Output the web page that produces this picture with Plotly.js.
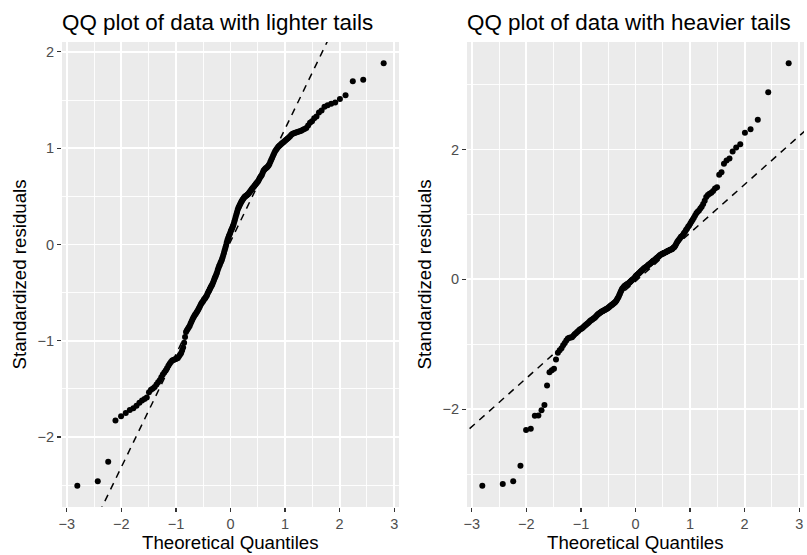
<!DOCTYPE html>
<html>
<head>
<meta charset="utf-8">
<script src="https://cdn.plot.ly/plotly-3.0.1.min.js"></script>
<style>
  html, body { margin: 0; padding: 0; background: #ffffff; }
  #chart { width: 807px; height: 555px; }
</style>
</head>
<body>
<div id="chart"></div>
<script>
// Theoretical normal quantiles (n = 200), shared by both panels
const theoreticalQuantiles = [
  -2.807,-2.432,-2.241,-2.108,-2.005,-1.919,-1.845,-1.780,-1.722,-1.669,
  -1.621,-1.576,-1.534,-1.494,-1.457,-1.422,-1.389,-1.356,-1.326,-1.296,
  -1.268,-1.240,-1.213,-1.188,-1.163,-1.138,-1.115,-1.092,-1.069,-1.047,
  -1.026,-1.005,-0.984,-0.964,-0.944,-0.925,-0.906,-0.887,-0.868,-0.850,
  -0.833,-0.815,-0.798,-0.781,-0.764,-0.747,-0.731,-0.714,-0.698,-0.682,
  -0.667,-0.651,-0.636,-0.620,-0.605,-0.590,-0.576,-0.561,-0.546,-0.532,
  -0.518,-0.503,-0.489,-0.475,-0.461,-0.447,-0.433,-0.420,-0.406,-0.392,
  -0.379,-0.366,-0.352,-0.339,-0.326,-0.312,-0.299,-0.286,-0.273,-0.260,
  -0.247,-0.234,-0.221,-0.208,-0.196,-0.183,-0.170,-0.157,-0.145,-0.132,
  -0.119,-0.107,-0.094,-0.082,-0.069,-0.056,-0.044,-0.031,-0.019,-0.006,
  0.006,0.019,0.031,0.044,0.056,0.069,0.082,0.094,0.107,0.119,
  0.132,0.145,0.157,0.170,0.183,0.196,0.208,0.221,0.234,0.247,
  0.260,0.273,0.286,0.299,0.312,0.326,0.339,0.352,0.366,0.379,
  0.392,0.406,0.420,0.433,0.447,0.461,0.475,0.489,0.503,0.518,
  0.532,0.546,0.561,0.576,0.590,0.605,0.620,0.636,0.651,0.667,
  0.682,0.698,0.714,0.731,0.747,0.764,0.781,0.798,0.815,0.833,
  0.850,0.868,0.887,0.906,0.925,0.944,0.964,0.984,1.005,1.026,
  1.047,1.069,1.092,1.115,1.138,1.163,1.188,1.213,1.240,1.268,
  1.296,1.326,1.356,1.389,1.422,1.457,1.494,1.534,1.576,1.621,
  1.669,1.722,1.780,1.845,1.919,2.005,2.108,2.241,2.432,2.807
];

// Standardized residuals, lighter-tailed data (sorted)
const residualsLight = [
  -2.507,-2.46,-2.257,-1.828,-1.783,-1.75,-1.72,-1.70,-1.675,-1.645,
  -1.62,-1.605,-1.59,-1.535,-1.51,-1.495,-1.48,-1.455,-1.43,-1.41,
  -1.38,-1.35,-1.33,-1.31,-1.285,-1.26,-1.24,-1.22,-1.205,-1.20,
  -1.195,-1.19,-1.185,-1.18,-1.16,-1.145,-1.13,-1.10,-1.07,-1.02,
  -0.96,-0.91,-0.89,-0.875,-0.86,-0.845,-0.82,-0.80,-0.78,-0.76,
  -0.745,-0.73,-0.72,-0.705,-0.69,-0.675,-0.66,-0.645,-0.625,-0.61,
  -0.60,-0.59,-0.575,-0.565,-0.555,-0.54,-0.53,-0.51,-0.495,-0.48,
  -0.465,-0.45,-0.435,-0.42,-0.405,-0.385,-0.365,-0.345,-0.33,-0.31,
  -0.29,-0.265,-0.245,-0.225,-0.21,-0.19,-0.175,-0.155,-0.135,-0.11,
  -0.085,-0.06,-0.035,-0.01,0.02,0.045,0.065,0.085,0.10,0.12,
  0.14,0.155,0.17,0.19,0.21,0.235,0.26,0.285,0.31,0.335,
  0.36,0.38,0.395,0.41,0.425,0.44,0.45,0.465,0.475,0.485,
  0.495,0.50,0.505,0.51,0.52,0.525,0.535,0.545,0.555,0.565,
  0.575,0.585,0.595,0.605,0.615,0.625,0.635,0.645,0.655,0.67,
  0.685,0.70,0.71,0.725,0.745,0.765,0.775,0.785,0.795,0.80,
  0.81,0.82,0.835,0.86,0.88,0.90,0.925,0.945,0.965,0.98,
  0.995,1.01,1.02,1.03,1.04,1.05,1.06,1.07,1.08,1.09,
  1.10,1.11,1.125,1.14,1.15,1.155,1.16,1.165,1.17,1.175,
  1.18,1.19,1.20,1.21,1.235,1.265,1.28,1.31,1.33,1.37,
  1.39,1.43,1.445,1.46,1.475,1.51,1.55,1.695,1.71,1.883
];

// Standardized residuals, heavier-tailed data (sorted)
const residualsHeavy = [
  -3.18,-3.15,-3.11,-2.87,-2.32,-2.30,-2.10,-2.095,-2.015,-1.935,
  -1.635,-1.43,-1.40,-1.375,-1.235,-1.13,-1.09,-1.06,-1.015,-0.98,
  -0.94,-0.91,-0.90,-0.895,-0.89,-0.87,-0.845,-0.83,-0.81,-0.795,
  -0.775,-0.765,-0.755,-0.74,-0.725,-0.71,-0.70,-0.685,-0.67,-0.655,
  -0.64,-0.63,-0.62,-0.61,-0.60,-0.59,-0.575,-0.56,-0.545,-0.535,
  -0.525,-0.515,-0.505,-0.495,-0.49,-0.485,-0.475,-0.47,-0.46,-0.455,
  -0.45,-0.44,-0.43,-0.42,-0.41,-0.40,-0.395,-0.385,-0.375,-0.365,
  -0.355,-0.345,-0.33,-0.31,-0.29,-0.27,-0.245,-0.22,-0.195,-0.17,
  -0.15,-0.135,-0.12,-0.11,-0.10,-0.09,-0.085,-0.075,-0.07,-0.065,
  -0.055,-0.045,-0.035,-0.025,-0.015,-0.005,0.00,0.01,0.02,0.035,
  0.05,0.06,0.07,0.08,0.09,0.10,0.11,0.12,0.13,0.14,
  0.15,0.16,0.17,0.175,0.185,0.19,0.20,0.21,0.22,0.23,
  0.235,0.245,0.255,0.265,0.275,0.285,0.29,0.30,0.31,0.32,
  0.33,0.34,0.35,0.36,0.37,0.38,0.385,0.39,0.40,0.405,
  0.41,0.415,0.42,0.43,0.435,0.44,0.45,0.455,0.46,0.465,
  0.475,0.49,0.50,0.52,0.55,0.575,0.595,0.615,0.635,0.655,
  0.665,0.685,0.71,0.73,0.76,0.78,0.81,0.83,0.86,0.89,
  0.92,0.95,0.985,1.02,1.04,1.06,1.09,1.12,1.16,1.21,
  1.27,1.30,1.32,1.335,1.36,1.40,1.42,1.61,1.65,1.78,
  1.83,1.86,1.97,2.03,2.08,2.257,2.31,2.457,2.88,3.33
];

// Reference lines (qqline): [intercept, slope]
const qqLineLight = [0.03, 1.171];
const qqLineHeavy = [-0.03, 0.746];

const panelTitles = ['QQ plot of data with lighter tails', 'QQ plot of data with heavier tails'];
const xTitle = 'Theoretical Quantiles';
const yTitle = 'Standardized residuals';
const xTickVals = [-3, -2, -1, 0, 1, 2, 3];
const yTickValsLight = [-2, -1, 0, 1, 2];
const yTickValsHeavy = [-2, 0, 2];

// ---- helpers ----
function expandRange(arr) {
  const lo = Math.min(...arr), hi = Math.max(...arr);
  const pad = (hi - lo) * 0.05;
  return [lo - pad, hi + pad];
}
const lineXs = [-5, 5];
function lineYs(coef) { return lineXs.map(x => coef[0] + coef[1] * x); }

const W = 807, H = 555;
const fx = v => v / W;
const fy = v => 1 - v / H;

const traces = [
  { type: 'scatter', mode: 'markers', x: theoreticalQuantiles, y: residualsLight,
    xaxis: 'x', yaxis: 'y', marker: { color: '#000000', size: 6 }, hoverinfo: 'skip', cliponaxis: false },
  { type: 'scatter', mode: 'lines', x: lineXs, y: lineYs(qqLineLight),
    xaxis: 'x', yaxis: 'y', line: { color: '#000000', width: 1.5, dash: '7px,6px' }, hoverinfo: 'skip' },
  { type: 'scatter', mode: 'markers', x: theoreticalQuantiles, y: residualsHeavy,
    xaxis: 'x2', yaxis: 'y2', marker: { color: '#000000', size: 6 }, hoverinfo: 'skip', cliponaxis: false },
  { type: 'scatter', mode: 'lines', x: lineXs, y: lineYs(qqLineHeavy),
    xaxis: 'x2', yaxis: 'y2', line: { color: '#000000', width: 1.5, dash: '7px,6px' }, hoverinfo: 'skip' }
];

const axisBase = {
  showgrid: true, gridcolor: '#FFFFFF', gridwidth: 1.8,
  zeroline: false, showline: false,
  ticks: 'outside', ticklen: 4, tickwidth: 1.2, tickcolor: '#333333',
  tickfont: { family: 'Liberation Sans, Arial, sans-serif', size: 14.5, color: '#4D4D4D' },
  fixedrange: true
};

const xr = expandRange(theoreticalQuantiles);
const yDomain = [fy(507), fy(42)];

const layout = {
  width: W, height: H,
  margin: { l: 0, r: 0, t: 0, b: 0 },
  paper_bgcolor: '#FFFFFF', plot_bgcolor: '#EBEBEB',
  showlegend: false,
  font: { family: 'Liberation Sans, Arial, sans-serif', color: '#000000' },
  xaxis: Object.assign({}, axisBase, {
    domain: [fx(62), fx(399)], range: xr, anchor: 'y',
    tickmode: 'array', tickvals: xTickVals,
    minor: { dtick: 0.5, tick0: 0, showgrid: true, gridcolor: '#FFFFFF', gridwidth: 0.9 }
  }),
  yaxis: Object.assign({}, axisBase, {
    domain: yDomain, range: expandRange(residualsLight), anchor: 'x',
    tickmode: 'array', tickvals: yTickValsLight,
    minor: { dtick: 0.5, tick0: 0, showgrid: true, gridcolor: '#FFFFFF', gridwidth: 0.9 }
  }),
  xaxis2: Object.assign({}, axisBase, {
    domain: [fx(467), fx(804)], range: xr, anchor: 'y2',
    tickmode: 'array', tickvals: xTickVals,
    minor: { dtick: 0.5, tick0: 0, showgrid: true, gridcolor: '#FFFFFF', gridwidth: 0.9 }
  }),
  yaxis2: Object.assign({}, axisBase, {
    domain: yDomain, range: expandRange(residualsHeavy), anchor: 'x2',
    tickmode: 'array', tickvals: yTickValsHeavy,
    minor: { dtick: 1, tick0: 0, showgrid: true, gridcolor: '#FFFFFF', gridwidth: 0.9 }
  }),
  annotations: [
    { text: panelTitles[0], xref: 'paper', yref: 'paper', x: fx(60), y: fy(22),
      xanchor: 'left', yanchor: 'middle', showarrow: false, font: { size: 22.4, color: '#000000' } },
    { text: panelTitles[1], xref: 'paper', yref: 'paper', x: fx(465), y: fy(22),
      xanchor: 'left', yanchor: 'middle', showarrow: false, font: { size: 22.4, color: '#000000' } },
    { text: xTitle, xref: 'paper', yref: 'paper', x: fx(230.5), y: fy(542),
      xanchor: 'center', yanchor: 'middle', showarrow: false, font: { size: 18.7, color: '#000000' } },
    { text: xTitle, xref: 'paper', yref: 'paper', x: fx(635.5), y: fy(542),
      xanchor: 'center', yanchor: 'middle', showarrow: false, font: { size: 18.7, color: '#000000' } },
    { text: yTitle, xref: 'paper', yref: 'paper', x: fx(19), y: fy(274.5), textangle: -90,
      xanchor: 'center', yanchor: 'middle', showarrow: false, font: { size: 18.7, color: '#000000' } },
    { text: yTitle, xref: 'paper', yref: 'paper', x: fx(424), y: fy(274.5), textangle: -90,
      xanchor: 'center', yanchor: 'middle', showarrow: false, font: { size: 18.7, color: '#000000' } }
  ]
};

Plotly.newPlot('chart', traces, layout, { staticPlot: true, displayModeBar: false });
</script>
</body>
</html>
